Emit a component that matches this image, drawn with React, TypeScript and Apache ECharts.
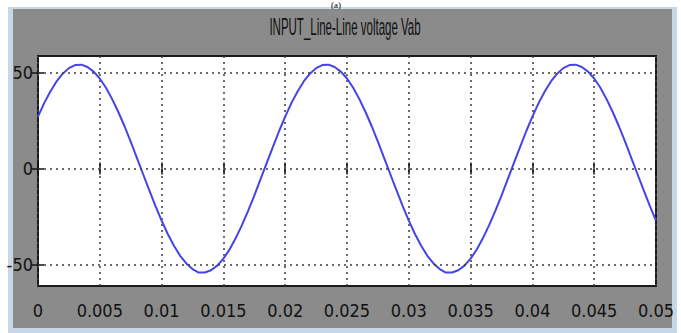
import React, { useEffect, useRef } from 'react';
import * as echarts from 'echarts';

const TITLE = 'INPUT_Line-Line voltage Vab';
const CAPTION = '(a)';

const timeValues = [
  0, 0.0005, 0.001, 0.0015, 0.002, 0.0025, 0.003, 0.0035, 0.004, 0.0045,
  0.005, 0.0055, 0.006, 0.0065, 0.007, 0.0075, 0.008, 0.0085, 0.009, 0.0095,
  0.01, 0.0105, 0.011, 0.0115, 0.012, 0.0125, 0.013, 0.0135, 0.014, 0.0145,
  0.015, 0.0155, 0.016, 0.0165, 0.017, 0.0175, 0.018, 0.0185, 0.019, 0.0195,
  0.02, 0.0205, 0.021, 0.0215, 0.022, 0.0225, 0.023, 0.0235, 0.024, 0.0245,
  0.025, 0.0255, 0.026, 0.0265, 0.027, 0.0275, 0.028, 0.0285, 0.029, 0.0295,
  0.03, 0.0305, 0.031, 0.0315, 0.032, 0.0325, 0.033, 0.0335, 0.034, 0.0345,
  0.035, 0.0355, 0.036, 0.0365, 0.037, 0.0375, 0.038, 0.0385, 0.039, 0.0395,
  0.04, 0.0405, 0.041, 0.0415, 0.042, 0.0425, 0.043, 0.0435, 0.044, 0.0445,
  0.045, 0.0455, 0.046, 0.0465, 0.047, 0.0475, 0.048, 0.0485, 0.049, 0.0495,
  0.05,
];

const voltageVab = [
  27.0, 34.0, 40.1, 45.3, 49.3, 52.2, 53.8, 54.0, 52.8, 50.4,
  46.8, 42.0, 36.1, 29.4, 22.0, 14.0, 5.6, -2.8, -11.2, -19.4,
  -27.0, -34.0, -40.1, -45.3, -49.3, -52.2, -54.0, -54.0, -52.8, -50.4,
  -46.8, -42.0, -36.1, -29.4, -22.0, -14.0, -5.6, 2.8, 11.2, 19.4,
  27.0, 34.0, 40.1, 45.3, 49.3, 52.2, 53.8, 54.0, 52.8, 50.4,
  46.8, 42.0, 36.1, 29.4, 22.0, 14.0, 5.6, -2.8, -11.2, -19.4,
  -27.0, -34.0, -40.1, -45.3, -49.3, -52.2, -54.0, -54.0, -52.8, -50.4,
  -46.8, -42.0, -36.1, -29.4, -22.0, -14.0, -5.6, 2.8, 11.2, 19.4,
  27.0, 34.0, 40.1, 45.3, 49.3, 52.2, 53.8, 54.0, 52.8, 50.4,
  46.8, 42.0, 36.1, 29.4, 22.0, 14.0, 5.6, -2.8, -11.2, -19.4,
  -27.0,
];

const yTickValues = [-50, 0, 50];
const X_MIN = 0;
const X_MAX = 0.05;
const X_STEP = 0.005;
const Y_MIN = -61;
const Y_MAX = 58.5;

const LABEL_FONT = "'Liberation Sans Narrow', 'DejaVu Sans Condensed', 'Liberation Sans', sans-serif";
const GRID_LINE = { color: '#3c3c3c', type: [2, 4] as number[], width: 1.5 };

export default function App() {
  const ref = useRef<HTMLDivElement>(null);

  useEffect(() => {
    if (!ref.current) return;
    const chart = echarts.init(ref.current, undefined, { renderer: 'svg' });
    const labelStyle = {
      fontFamily: LABEL_FONT,
      fontSize: 18,
      color: '#111',
    };
    const tickStyle = { color: '#111', width: 1.5 };
    chart.setOption({
      animation: false,
      backgroundColor: 'transparent',
      grid: {
        left: 38,
        right: 25,
        top: 56,
        bottom: 47,
        show: true,
        backgroundColor: '#ffffff',
        borderColor: '#1a1a1a',
        borderWidth: 2,
      },
      xAxis: [
        {
          type: 'value',
          position: 'bottom',
          min: X_MIN,
          max: X_MAX,
          interval: X_STEP,
          axisLine: { show: false },
          axisTick: { show: true, inside: true, length: 6, lineStyle: tickStyle },
          axisLabel: { ...labelStyle, margin: 15 },
          splitLine: { show: true, lineStyle: GRID_LINE },
        },
        {
          type: 'value',
          position: 'top',
          min: X_MIN,
          max: X_MAX,
          interval: X_STEP,
          axisLine: { show: false },
          axisTick: { show: true, inside: true, length: 6, lineStyle: tickStyle },
          axisLabel: { show: false },
          splitLine: { show: false },
        },
      ],
      yAxis: [
        {
          type: 'value',
          position: 'left',
          min: Y_MIN,
          max: Y_MAX,
          axisLine: { show: false },
          axisTick: { show: true, inside: true, length: 6, lineStyle: tickStyle, customValues: yTickValues },
          axisLabel: { ...labelStyle, margin: 5, customValues: yTickValues },
          splitLine: { show: false },
        },
        {
          type: 'value',
          position: 'right',
          min: Y_MIN,
          max: Y_MAX,
          axisLine: { show: false },
          axisTick: { show: true, inside: true, length: 6, lineStyle: tickStyle, customValues: yTickValues },
          axisLabel: { show: false },
          splitLine: { show: false },
        },
      ],
      series: [
        {
          type: 'line',
          xAxisIndex: 0,
          yAxisIndex: 0,
          data: timeValues.map((t, i) => [t, voltageVab[i]]),
          showSymbol: false,
          smooth: false,
          lineStyle: { color: '#4444e8', width: 2, join: 'round' },
          markLine: {
            silent: true,
            symbol: 'none',
            label: { show: false },
            lineStyle: GRID_LINE,
            data: yTickValues.map((v) => ({ yAxis: v })),
          },
        },
      ],
      graphic: [
        {
          type: 'text',
          x: 345,
          y: 27,
          scaleX: 0.5,
          style: {
            text: TITLE,
            fontFamily: "'Liberation Sans', Arial, sans-serif",
            fontSize: 23,
            fill: '#111',
            textAlign: 'center',
            textVerticalAlign: 'middle',
          },
        },
        {
          type: 'text',
          x: 336,
          y: 0,
          style: {
            text: CAPTION,
            fontFamily: "'Liberation Serif', 'Times New Roman', serif",
            fontSize: 9,
            fill: '#000',
            textAlign: 'center',
            textVerticalAlign: 'top',
          },
        },
      ],
    });
    return () => chart.dispose();
  }, []);

  return (
    <div style={{ position: 'fixed', left: 0, top: 0, width: 681, height: 333, background: '#ffffff', overflow: 'hidden' }}>
      <div style={{ position: 'absolute', left: 8, top: 7, width: 669, height: 326, background: '#c9d6e6' }} />
      <div style={{ position: 'absolute', left: 13, top: 9, width: 659, height: 319, background: '#8b8b8b' }} />
      <div ref={ref} style={{ position: 'absolute', left: 0, top: 0, width: 681, height: 333 }} />
    </div>
  );
}
